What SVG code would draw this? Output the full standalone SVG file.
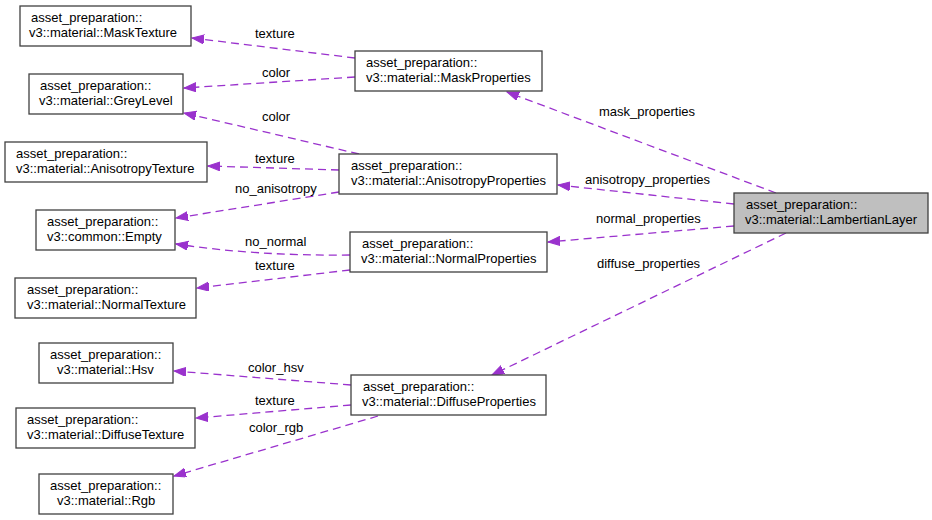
<svg xmlns="http://www.w3.org/2000/svg" width="932" height="520" viewBox="0 0 932 520">
<style>
text{font-family:"Liberation Sans",Arial,sans-serif;font-size:13px;fill:#000}
.n rect{fill:#fff;stroke:#404040;stroke-width:1.3}
.n.hl rect{fill:#bfbfbf}
.e path{fill:none;stroke:#9a32cd;stroke-width:1.3;stroke-dasharray:8,5;marker-end:url(#ah)}
</style>
<defs>
<marker id="ah" markerUnits="userSpaceOnUse" markerWidth="13" markerHeight="10" refX="12" refY="4.5" orient="auto">
<path d="M0,0 L12,4.5 L0,9 z" fill="#9a32cd" stroke="#9a32cd" stroke-width="1"/>
</marker>
</defs>
<rect width="932" height="520" fill="#fff"/>
<g id="connectors" class="e">
<path d="M355,58 L192,38"/>
<path d="M355,77 L184,88"/>
<path d="M359,154 L184,113"/>
<path d="M339,170 L208,166"/>
<path d="M339,192 L176,218"/>
<path d="M350,255 Q255,256 176,244"/>
<path d="M350,270 L197,288"/>
<path d="M351,385 L174,371"/>
<path d="M351,405 L196,418"/>
<path d="M378,416 L174,476"/>
<path d="M776,193 L507,92"/>
<path d="M734,204 L558,185"/>
<path d="M734,226 L548,242"/>
<path d="M786,233 L492,375"/>
</g>
<g id="edge-labels">
<text x="255" y="38">texture</text>
<text x="262" y="77">color</text>
<text x="262" y="121">color</text>
<text x="255" y="163">texture</text>
<text x="235" y="193">no_anisotropy</text>
<text x="245" y="246">no_normal</text>
<text x="255" y="270">texture</text>
<text x="248" y="372">color_hsv</text>
<text x="255" y="405">texture</text>
<text x="249" y="432">color_rgb</text>
<text x="599" y="116">mask_properties</text>
<text x="585" y="184">anisotropy_properties</text>
<text x="596" y="223">normal_properties</text>
<text x="597" y="268">diffuse_properties</text>
</g>
<g id="MaskTexture" class="n"><rect x="20" y="6" width="171" height="40"/><text x="31" y="22">asset_preparation::</text><text x="29" y="37">v3::material::MaskTexture</text></g>
<g id="GreyLevel" class="n"><rect x="29" y="74" width="154" height="40"/><text x="40" y="90">asset_preparation::</text><text x="39" y="105">v3::material::GreyLevel</text></g>
<g id="AnisotropyTexture" class="n"><rect x="5" y="142" width="202" height="40"/><text x="16" y="158">asset_preparation::</text><text x="16" y="173">v3::material::AnisotropyTexture</text></g>
<g id="MaskProperties" class="n"><rect x="355" y="51" width="187" height="40"/><text x="366" y="67">asset_preparation::</text><text x="366" y="82">v3::material::MaskProperties</text></g>
<g id="AnisotropyProperties" class="n"><rect x="339" y="154" width="218" height="40"/><text x="351" y="170">asset_preparation::</text><text x="351" y="185">v3::material::AnisotropyProperties</text></g>
<g id="LambertianLayer" class="n hl"><rect x="734" y="193" width="194" height="40"/><text x="746" y="209">asset_preparation::</text><text x="745" y="224">v3::material::LambertianLayer</text></g>
<g id="Empty" class="n"><rect x="36" y="210" width="139" height="40"/><text x="47" y="226">asset_preparation::</text><text x="47" y="241">v3::common::Empty</text></g>
<g id="NormalTexture" class="n"><rect x="15" y="278" width="181" height="40"/><text x="27" y="294">asset_preparation::</text><text x="27" y="309">v3::material::NormalTexture</text></g>
<g id="NormalProperties" class="n"><rect x="350" y="232" width="197" height="40"/><text x="362" y="248">asset_preparation::</text><text x="361" y="263">v3::material::NormalProperties</text></g>
<g id="Hsv" class="n"><rect x="39" y="343" width="134" height="40"/><text x="50" y="359">asset_preparation::</text><text x="57" y="374">v3::material::Hsv</text></g>
<g id="DiffuseTexture" class="n"><rect x="16" y="408" width="179" height="40"/><text x="27" y="424">asset_preparation::</text><text x="27" y="439">v3::material::DiffuseTexture</text></g>
<g id="Rgb" class="n"><rect x="39" y="474" width="134" height="40"/><text x="50" y="490">asset_preparation::</text><text x="57" y="505">v3::material::Rgb</text></g>
<g id="DiffuseProperties" class="n"><rect x="351" y="375" width="195" height="40"/><text x="363" y="391">asset_preparation::</text><text x="362" y="406">v3::material::DiffuseProperties</text></g>
</svg>
